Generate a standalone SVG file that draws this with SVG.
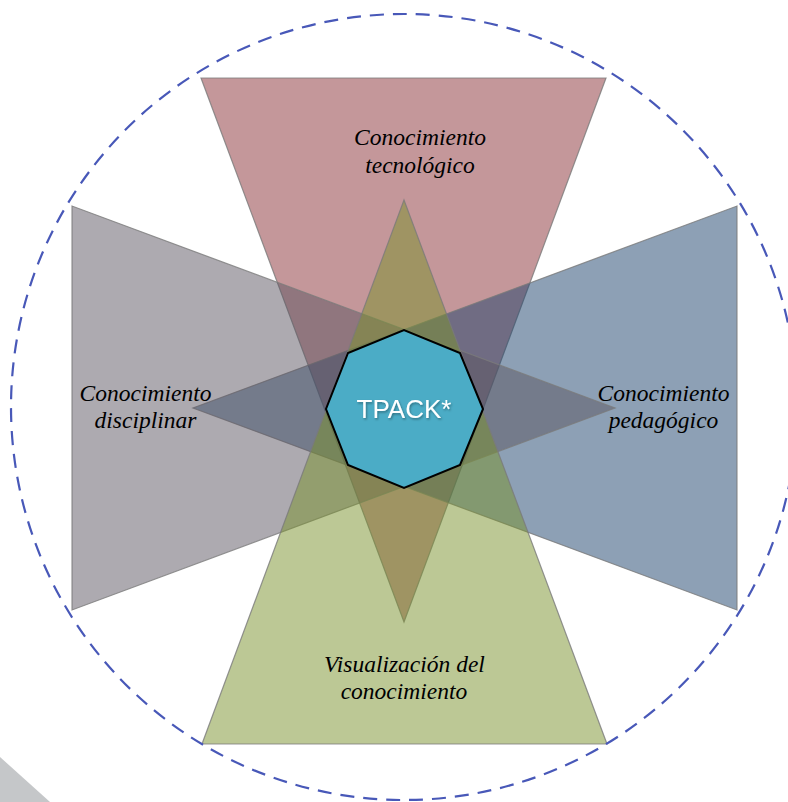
<svg xmlns="http://www.w3.org/2000/svg" width="788" height="802" viewBox="0 0 788 802">
  <defs>
    <style>
      .tri { stroke: #7a7a7a; stroke-width: 1.2; stroke-opacity: 0.8; fill-opacity: 0.5; }
      .lbl { font-family: 'Liberation Serif', 'Times New Roman', serif; font-style: italic; font-size: 23.5px; fill: #000; text-anchor: middle; }
      .core { font-family: 'Liberation Sans', Arial, sans-serif; font-size: 26px; fill: #ffffff; text-anchor: middle; }
    </style>
    <filter id="shadow" x="-20%" y="-30%" width="140%" height="160%">
      <feDropShadow dx="1" dy="1.5" stdDeviation="1" flood-color="#000" flood-opacity="0.35"/>
    </filter>
  </defs>
  <rect width="788" height="802" fill="#ffffff"/>
  <polygon points="0,757 50,802 0,802" fill="#c5c7c9"/>
  <g id="tecnologico">
    <polygon class="tri" points="201,78 606,78 404,622" fill="#892f35"/>
  </g>
  <g id="pedagogico">
    <polygon class="tri" points="737,206 737,610 193,408" fill="#1b416b"/>
  </g>
  <g id="disciplinar">
    <polygon class="tri" points="72,206 72,610 615,408" fill="#5b5561"/>
  </g>
  <g id="visualizacion">
    <polygon class="tri" points="202,744 607,744 404,200" fill="#79912b"/>
  </g>
  <circle cx="404" cy="407" r="393" fill="none" stroke="#4858b8" stroke-width="2.2" stroke-dasharray="14 9"/>
  <g id="labels">
    <text class="lbl" x="420" y="145">Conocimiento</text>
    <text class="lbl" x="420" y="173">tecnológico</text>
    <text class="lbl" x="145.5" y="401">Conocimiento</text>
    <text class="lbl" x="145.5" y="428">disciplinar</text>
    <text class="lbl" x="663.5" y="401">Conocimiento</text>
    <text class="lbl" x="663.5" y="428">pedagógico</text>
    <text class="lbl" x="404.5" y="672">Visualización del</text>
    <text class="lbl" x="404" y="699">conocimiento</text>
  </g>
  <g id="tpack">
    <polygon points="483,409 460,465 404,488 348,465 326,409 348,353 404,330 460,353" fill="#4bacc6" stroke="#000" stroke-width="2"/>
    <text class="core" x="404" y="417.5" filter="url(#shadow)">TPACK*</text>
  </g>
</svg>
